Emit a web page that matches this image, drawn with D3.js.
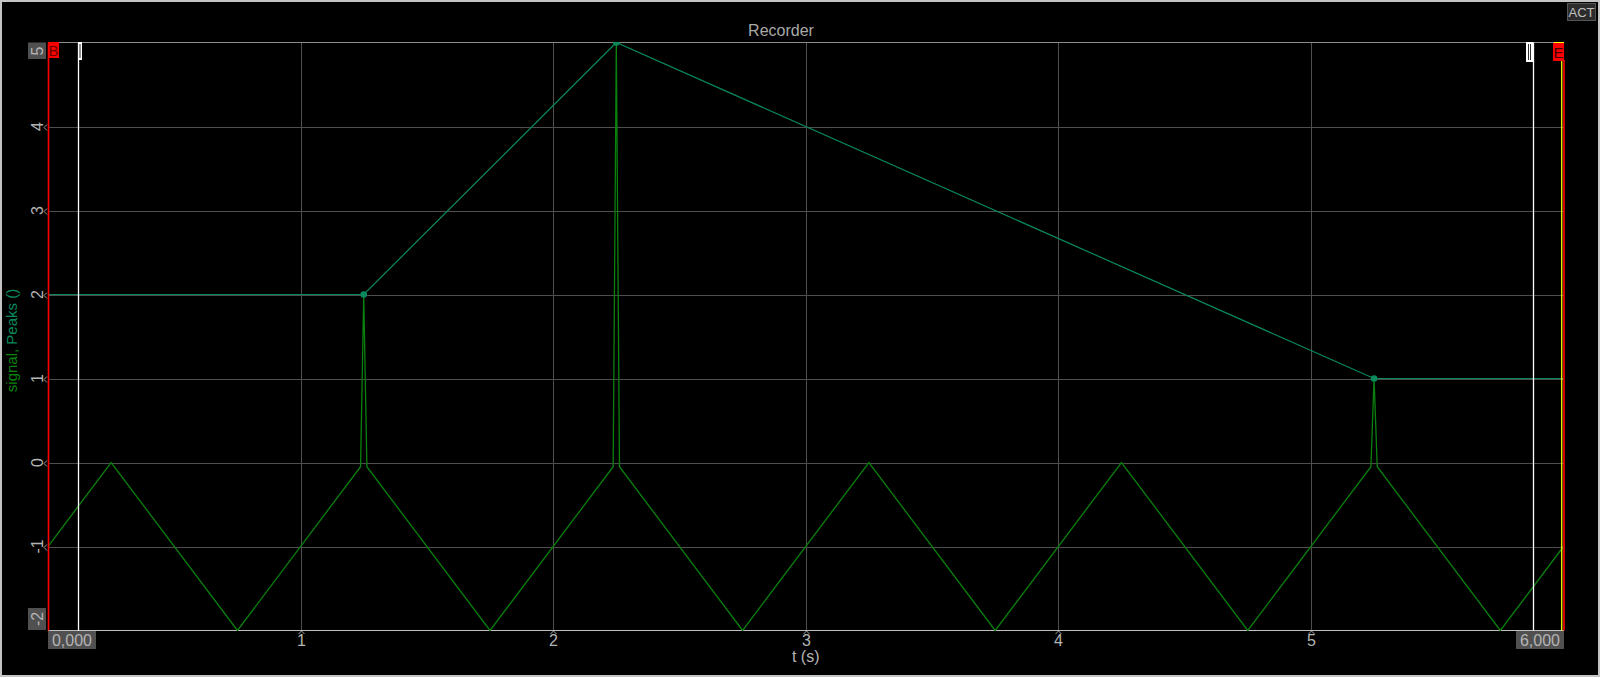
<!DOCTYPE html>
<html><head><meta charset="utf-8">
<script src="https://cdn.jsdelivr.net/npm/d3@7"></script>
<style>
html,body{margin:0;padding:0;background:#000;}
svg{display:block;}
text{font-family:"Liberation Sans",Arial,sans-serif;}
</style></head>
<body>
<svg id="chart" width="1600" height="677"></svg>
<script>
// ---- data ----
const chartTitle = "Recorder";
const xTicks = [0, 1, 2, 3, 4, 5, 6];
const xTickLabels = ["0,000", "1", "2", "3", "4", "5", "6,000"];
const yTicks = [-2, -1, 0, 1, 2, 3, 4, 5];
const yTickLabels = ["-2", "-1", "0", "1", "2", "3", "4", "5"];
// signal: triangle wave with narrow peaks
const signalT = [0, 0.25, 0.75, 1.2375, 1.25, 1.2625, 1.75, 2.2375, 2.25, 2.2625, 2.75, 3.25, 3.75, 4.25, 4.75, 5.2375, 5.25, 5.2625, 5.75, 6];
const signalV = [-1, 0, -2, -0.05, 2, -0.05, -2, -0.05, 5, -0.05, -2, 0, -2, 0, -2, -0.05, 1, -0.05, -2, -1];
// Peaks: detected peaks (dots) and held line
const peakT = [1.25, 2.25, 5.25];
const peakV = [2, 5, 1];
const peakLineT = [0, 1.25, 2.25, 5.25, 6];
const peakLineV = [2, 2, 5, 1, 1];
// cursors (time positions)
const cursorB = 0;
const cursorE = 6;
const cursorW1 = 0.118;
const cursorW2 = 5.88;
const cursorY = 5.993;

// ---- layout ----
const W = 1600, H = 677;
const L = 48, R = 1563.5, T = 42.5, B = 630.5;
const svg = d3.select("#chart");
const x = d3.scaleLinear().domain([0, 6]).range([L, R]);
const y = d3.scaleLinear().domain([-2, 5]).range([B, T]);
const sigColor = "#0a800e", peakColor = "#088a5c";

svg.append("rect").attr("width", W).attr("height", H).attr("fill", "#000");
svg.append("rect").attr("x", 1).attr("y", 1).attr("width", W - 2).attr("height", H - 2)
  .attr("fill", "none").attr("stroke", "#c4c4c4").attr("stroke-width", 2);

// title
svg.append("text").attr("x", 781).attr("y", 36).attr("text-anchor", "middle")
  .attr("fill", "#a8a8a8").style("font-size", "16px").text(chartTitle);

// ACT box
svg.append("rect").attr("x", 1567.5).attr("y", 3.5).attr("width", 28).attr("height", 17)
  .attr("fill", "#2c2c2c").attr("stroke", "#555");
svg.append("text").attr("x", 1581.5).attr("y", 17).attr("text-anchor", "middle")
  .attr("fill", "#c0c0c0").style("font-size", "13px").text("ACT");

// grid
const px = v => Math.round(x(v)) + 0.5;
const py = v => Math.round(y(v)) + 0.5;
svg.append("g").selectAll("line").data(xTicks.slice(1, -1)).join("line")
  .attr("x1", px).attr("x2", px).attr("y1", T).attr("y2", B)
  .attr("stroke", "#4e4e4e");
svg.append("g").selectAll("line").data(yTicks.slice(1, -1)).join("line")
  .attr("y1", py).attr("y2", py).attr("x1", L).attr("x2", 1564)
  .attr("stroke", "#4e4e4e");
// top frame and bottom axis
svg.append("line").attr("x1", L).attr("x2", 1564).attr("y1", 42.5).attr("y2", 42.5).attr("stroke", "#8c8c8c");
svg.append("line").attr("x1", L).attr("x2", 1564).attr("y1", 630.5).attr("y2", 630.5).attr("stroke", "#c0c0c0");

// clip
svg.append("clipPath").attr("id", "plotclip").append("rect")
  .attr("x", L).attr("y", T - 0.5).attr("width", R - L + 1).attr("height", B - T + 1);
const plot = svg.append("g").attr("clip-path", "url(#plotclip)");

// signal line
const sigData = signalT.map((t, i) => [t, signalV[i]]);
plot.append("path").datum(sigData)
  .attr("d", d3.line().x(d => x(d[0])).y(d => y(d[1])))
  .attr("fill", "none").attr("stroke", sigColor).attr("stroke-width", 1.3);

// peaks line
const pkLine = peakLineT.map((t, i) => [t, peakLineV[i]]);
plot.append("path").datum(pkLine)
  .attr("d", d3.line().x(d => x(d[0])).y(d => y(d[1])))
  .attr("fill", "none").attr("stroke", peakColor).attr("stroke-width", 1.2);
plot.append("g").selectAll("circle").data(peakT.map((t, i) => [t, peakV[i]])).join("circle")
  .attr("cx", d => x(d[0])).attr("cy", d => y(d[1])).attr("r", 3.3).attr("fill", peakColor);

// y tick labels
const yg = svg.append("g");
yTicks.forEach((v, i) => {
  const isEnd = (i === 0 || i === yTicks.length - 1);
  let cy = y(v);
  if (i === yTicks.length - 1) cy = 51;
  if (i === 0) cy = 619;
  if (isEnd) {
    yg.append("rect").attr("x", 28).attr("y", cy - (i === 0 ? 11 : 8.5)).attr("width", 18)
      .attr("height", i === 0 ? 22 : 16.5).attr("fill", "#505050");
  } else {
    yg.append("path").attr("d", `M47,${py(v) - 3}L44,${py(v)}L47,${py(v) + 3}`)
      .attr("fill", "none").attr("stroke", "#a0a0a0");
  }
  yg.append("text").attr("transform", `translate(43,${cy}) rotate(-90)`)
    .attr("text-anchor", "middle").attr("fill", "#b4b4b4").style("font-size", "16px")
    .text(yTickLabels[i]);
});

// x tick labels
const xg = svg.append("g");
xTicks.forEach((v, i) => {
  if (i === 0) {
    xg.append("rect").attr("x", 48).attr("y", 631).attr("width", 48).attr("height", 18).attr("fill", "#505050");
    xg.append("text").attr("x", 72).attr("y", 646).attr("text-anchor", "middle")
      .attr("fill", "#b4b4b4").style("font-size", "16px").text(xTickLabels[i]);
  } else if (i === xTicks.length - 1) {
    xg.append("rect").attr("x", 1516).attr("y", 631).attr("width", 48).attr("height", 18).attr("fill", "#505050");
    xg.append("text").attr("x", 1540).attr("y", 646).attr("text-anchor", "middle")
      .attr("fill", "#b4b4b4").style("font-size", "16px").text(xTickLabels[i]);
  } else {
    xg.append("path").attr("d", `M${px(v) - 3},634L${px(v)},631L${px(v) + 3},634`)
      .attr("fill", "none").attr("stroke", "#a0a0a0");
    xg.append("text").attr("x", px(v)).attr("y", 646).attr("text-anchor", "middle")
      .attr("fill", "#b4b4b4").style("font-size", "16px").text(xTickLabels[i]);
  }
});

// axis titles
svg.append("text").attr("x", (L + R) / 2).attr("y", 662).attr("text-anchor", "middle")
  .attr("fill", "#b4b4b4").style("font-size", "16px").text("t (s)");
const yt = svg.append("text").attr("transform", `translate(17,${(T + B) / 2 + 4}) rotate(-90)`)
  .attr("text-anchor", "middle").style("font-size", "15px");
yt.append("tspan").attr("fill", "#0a850e").text("signal, ");
yt.append("tspan").attr("fill", "#088a5c").text("Peaks ()");

// cursors
const cx = v => x(v);
// white cursors
svg.append("line").datum(cursorW1).attr("x1", d => Math.round(cx(d)) + 0.5).attr("x2", d => Math.round(cx(d)) + 0.5)
  .attr("y1", T).attr("y2", B).attr("stroke", "#fff").attr("stroke-width", 1.3);
svg.append("rect").datum(cursorW1).attr("x", d => Math.round(cx(d))).attr("y", 42).attr("width", 4).attr("height", 18).attr("fill", "#fff");
svg.append("line").datum(cursorW1).attr("x1", d => Math.round(cx(d)) + 2).attr("x2", d => Math.round(cx(d)) + 2)
  .attr("y1", 44).attr("y2", 58).attr("stroke", "#222").attr("stroke-width", 1);

svg.append("line").datum(cursorW2).attr("x1", d => Math.round(cx(d)) + 0.5).attr("x2", d => Math.round(cx(d)) + 0.5)
  .attr("y1", T).attr("y2", B).attr("stroke", "#fff").attr("stroke-width", 1.3);
svg.append("rect").datum(cursorW2).attr("x", d => Math.round(cx(d)) - 7).attr("y", 42).attr("width", 7).attr("height", 20).attr("fill", "#fff");
[-4.5, -2.5].forEach(o => {
  svg.append("line").datum(cursorW2).attr("x1", d => Math.round(cx(d)) + o).attr("x2", d => Math.round(cx(d)) + o)
    .attr("y1", 44).attr("y2", 60).attr("stroke", "#333").attr("stroke-width", 1);
});

// yellow cursor
svg.append("line").datum(cursorY).attr("x1", d => cx(d)).attr("x2", d => cx(d)).attr("y1", T).attr("y2", B)
  .attr("stroke", "#ffff00").attr("stroke-width", 1.3);
svg.append("line").attr("x1", 1554).attr("x2", 1564).attr("y1", 42.5).attr("y2", 42.5).attr("stroke", "#ffff00");

// B cursor (red)
svg.append("line").datum(cursorB).attr("x1", d => cx(d) + 0.5).attr("x2", d => cx(d) + 0.5).attr("y1", T).attr("y2", B)
  .attr("stroke", "#ff0000").attr("stroke-width", 1.6);
svg.append("rect").datum(cursorB).attr("x", d => cx(d)).attr("y", 42).attr("width", 11).attr("height", 16).attr("fill", "#ff0000");
svg.append("text").datum(cursorB).attr("x", d => cx(d) + 5.5).attr("y", 56).attr("text-anchor", "middle")
  .attr("fill", "#700000").style("font-size", "15px").text("B");

// E cursor (red)
svg.append("line").datum(cursorE).attr("x1", d => cx(d) + 0.5).attr("x2", d => cx(d) + 0.5).attr("y1", 60).attr("y2", B)
  .attr("stroke", "#ff0000").attr("stroke-width", 1.6);
svg.append("rect").datum(cursorE).attr("x", d => cx(d) - 10.5).attr("y", 43).attr("width", 11).attr("height", 18).attr("fill", "#ff0000");
svg.append("text").datum(cursorE).attr("x", d => cx(d) - 5).attr("y", 58).attr("text-anchor", "middle")
  .attr("fill", "#400000").style("font-size", "15px").text("E");
</script>
</body></html>
